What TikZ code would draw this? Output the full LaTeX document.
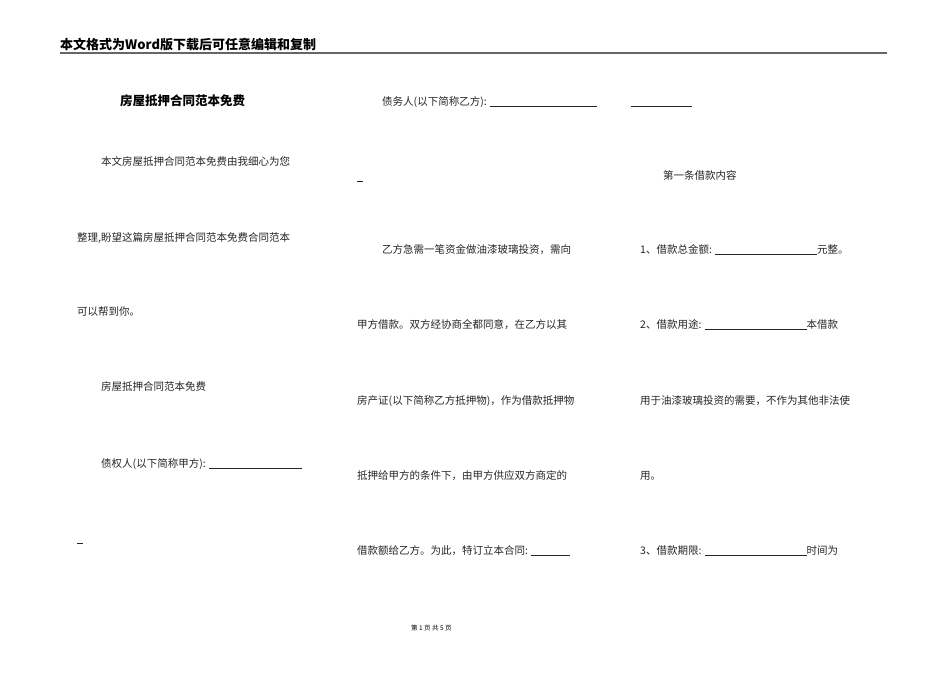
\documentclass[tikz,border=0pt]{standalone}
\usepackage{fontspec}
\setmainfont{Noto Sans CJK SC}
\newfontfamily\hdfont{Noto Sans CJK SC Bold}
\newcommand{\blank}[1]{\rule[-1.5pt]{#1}{0.6pt}}
\begin{document}
\begin{tikzpicture}[x=1pt,y=-1pt,
  body/.style={anchor=base west,inner sep=0pt,font=\fontsize{10.5}{12}\selectfont,text=black!85},
  ttl/.style={anchor=base west,inner sep=0pt,font=\fontsize{12.5}{14}\selectfont\bfseries}]
\useasboundingbox[fill=white] (0,0) rectangle (950,672);
\node[anchor=base west,inner sep=0pt,font=\fontsize{13}{15}\selectfont\bfseries] (hdr) at (60,49) {本文格式为Word版下载后可任意编辑和复制};
\coordinate (l1) at (60,53); \coordinate (l2) at (887,53);
\draw[black!60,line width=1.4pt] (l1) -- (l2);
\node[ttl] (t) at (120,105) {房屋抵押合同范本免费};
\node[body] (a1) at (101,165) {本文房屋抵押合同范本免费由我细心为您};
\node[body] (a2) at (77,241) {整理,盼望这篇房屋抵押合同范本免费合同范本};
\node[body] (a3) at (77,315) {可以帮到你。};
\node[body] (a4) at (101,390) {房屋抵押合同范本免费};
\node[body] (a5) at (101,467) {债权人(以下简称甲方): \blank{93pt}};
\node[body] (a6) at (77,542) {\blank{6pt}};
\node[body] (b1) at (382,105) {债务人(以下简称乙方): \blank{107pt}\hspace{34pt}\blank{61pt}};
\node[body] (b0) at (357,180) {\blank{6pt}};
\node[body] (b2) at (382,253) {乙方急需一笔资金做油漆玻璃投资，需向};
\node[body] (b3) at (357,328) {甲方借款。双方经协商全都同意，在乙方以其};
\node[body] (b4) at (357,404) {房产证(以下简称乙方抵押物)，作为借款抵押物};
\node[body] (b5) at (357,479) {抵押给甲方的条件下，由甲方供应双方商定的};
\node[body] (b6) at (357,554) {借款额给乙方。为此，特订立本合同: \blank{39pt}};
\node[body] (c1) at (663,179) {第一条借款内容};
\node[body] (c2) at (640,253) {1、借款总金额: \blank{102pt}元整。};
\node[body] (c3) at (640,328) {2、借款用途: \blank{102pt}本借款};
\node[body] (c4) at (640,404) {用于油漆玻璃投资的需要，不作为其他非法使};
\node[body] (c5) at (640,479) {用。};
\node[body] (c6) at (640,554) {3、借款期限: \blank{102pt}时间为};
\node[anchor=base west,inner sep=0pt,font=\fontsize{6.5}{8}\selectfont] (f) at (411,630) {第 1 页 共 5 页};
\end{tikzpicture}
\end{document}
